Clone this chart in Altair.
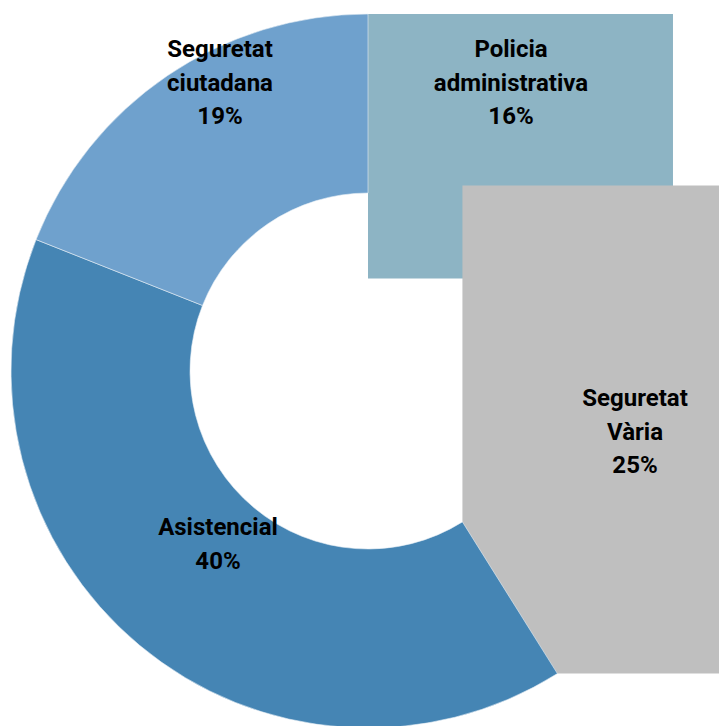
import math
import altair as alt
import pandas as pd

# ---- data ----
categories = ["Policia administrativa", "Seguretat Vària", "Asistencial", "Seguretat ciutadana"]
values = [16.3, 24.8, 39.9, 19.0]
colors = ["#8DB4C4", "#BFBFBF", "#4585B4", "#6FA1CD"]

# ---- layout ----
W, H = 719, 726
cx, cy = 368, 371          # donut centre (px)
r_out, r_in = 357, 178     # radii (px)
box_slices = ["Policia administrativa", "Seguretat Vària"]  # rendered as bounding boxes in the original
label_pos = {              # label anchor (centre x, first baseline y)
    "Policia administrativa": (511, 57),
    "Seguretat Vària": (635, 406),
    "Asistencial": (218, 535),
    "Seguretat ciutadana": (220, 57),
}
font = "Roboto"

total = sum(values)
rows = []
acc = 0.0
for cat, v in zip(categories, values):
    t0 = acc / total * 2 * math.pi
    acc += v
    t1 = acc / total * 2 * math.pi
    # bounding box of the annular sector
    angs = [t0, t1] + [k * math.pi / 2 for k in range(5) if t0 < k * math.pi / 2 < t1]
    pts = []
    for a in angs:
        for r in (r_in, r_out):
            pts.append((cx + r * math.sin(a), cy - r * math.cos(a)))
    xs_ = [p[0] for p in pts]
    ys_ = [p[1] for p in pts]
    lx, ly = label_pos[cat]
    rows.append(dict(
        cat=cat, value=v, t0=t0, t1=t1,
        bx0=min(xs_), bx1=max(xs_), by0=min(ys_), by1=max(ys_),
        label=cat.replace(" ", "\n") + f"\n{round(v / total * 100)}%",
        lx=lx, ly=ly, box=cat in box_slices,
    ))
df = pd.DataFrame(rows)

xs = alt.Scale(domain=[0, W], nice=False, zero=False)
ys = alt.Scale(domain=[0, H], nice=False, zero=False, reverse=True)
cs = alt.Scale(domain=categories, range=colors)

base = alt.Chart(df)

boxes = base.transform_filter("datum.box").mark_rect(clip=True).encode(
    x=alt.X("bx0:Q", scale=xs, axis=None),
    x2="bx1:Q",
    y=alt.Y("by0:Q", scale=ys, axis=None),
    y2="by1:Q",
    color=alt.Color("cat:N", scale=cs, legend=None),
    order=alt.Order("t0:Q"),
)

arcs = base.transform_filter("!datum.box").mark_arc(
    radius=r_out, radius2=r_in, stroke="#E6EEF5", strokeWidth=0.6
).encode(
    theta=alt.Theta("t0:Q", scale=None),
    theta2="t1:Q",
    x=alt.value(cx),
    y=alt.value(cy),
    color=alt.Color("cat:N", scale=cs, legend=None),
)

labels = base.mark_text(
    font=font, fontSize=24, fontWeight="bold", color="black",
    align="center", baseline="alphabetic", lineBreak="\n", lineHeight=33.5,
).encode(
    x=alt.X("lx:Q", scale=xs, axis=None),
    y=alt.Y("ly:Q", scale=ys, axis=None),
    text="label:N",
)

chart = alt.layer(boxes, arcs, labels).properties(
    width=W, height=H, padding=0, autosize=alt.AutoSizeParams(type="none"),
    background="white",
).configure_view(stroke=None)

chart.save("out.html", embed_options={"renderer": "svg", "actions": False})
